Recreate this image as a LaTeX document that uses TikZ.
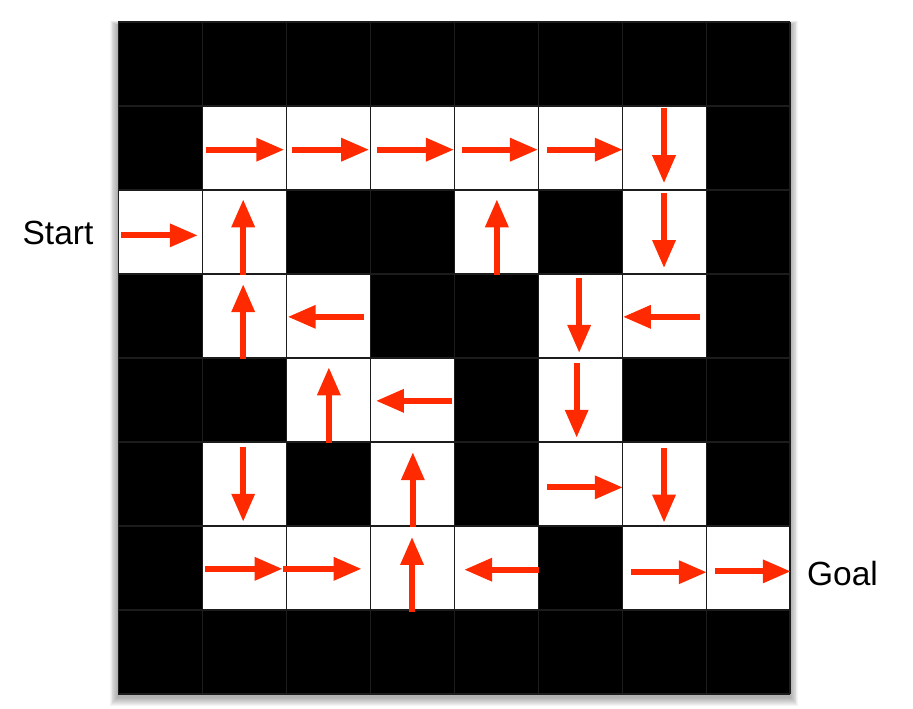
\documentclass[tikz,border=0pt]{standalone}
\usepackage{fontspec}
\setmainfont{Liberation Sans}
\usetikzlibrary{arrows.meta}
\definecolor{policyred}{RGB}{255,42,0}
\definecolor{gridline}{RGB}{28,28,28}

\begin{document}
\begin{tikzpicture}[x=2cm, y=-2cm,
    policy/.style={policyred, line width=4pt, -{Triangle[length=19pt, width=15pt]}},
    label/.style={font=\fontsize{22.7}{27}\selectfont, inner sep=0pt}]

    \useasboundingbox (-1.405,-0.262) rectangle (9.464,8.167);

    % Shadow
    \foreach \s in {1,...,9}
      \fill[black, opacity=0.04] (-\s*0.011, -\s*0.006+0.04) rectangle (8+\s*0.011, 8+\s*0.011+0.04);

    % Board
    \fill[black] (0,0) rectangle (8,8);
    \foreach \c/\r in {1/1,2/1,3/1,4/1,5/1,6/1,
                       0/2,1/2,4/2,6/2,
                       1/3,2/3,5/3,6/3,
                       2/4,3/4,5/4,
                       1/5,3/5,5/5,6/5,
                       1/6,2/6,3/6,4/6,6/6,7/6}
      \fill[white] (\c,\r) rectangle ++(1,1);
    \draw[gridline, line width=0.7pt, step=2cm] (0,0) grid (8,8);

    % Moves
    \draw[policy] (1.05,1.52) -- (1.98,1.52);
    \draw[policy] (2.07,1.52) -- (2.99,1.52);
    \draw[policy] (3.08,1.52) -- (4.00,1.52);
    \draw[policy] (4.10,1.52) -- (5.00,1.52);
    \draw[policy] (5.11,1.52) -- (6.01,1.52);
    \draw[policy] (6.50,1.02) -- (6.50,1.92);

    \draw[policy] (0.04,2.54) -- (0.95,2.54);
    \draw[policy] (1.49,3.01) -- (1.49,2.11);
    \draw[policy] (4.51,3.01) -- (4.51,2.11);
    \draw[policy] (6.50,2.04) -- (6.50,2.93);

    \draw[policy] (1.49,4.01) -- (1.49,3.12);
    \draw[policy] (2.93,3.51) -- (2.02,3.51);
    \draw[policy] (5.49,3.05) -- (5.49,3.94);
    \draw[policy] (6.93,3.51) -- (6.01,3.51);

    \draw[policy] (2.51,5.01) -- (2.51,4.11);
    \draw[policy] (3.98,4.51) -- (3.07,4.51);
    \draw[policy] (5.46,4.06) -- (5.46,4.95);

    \draw[policy] (1.49,5.06) -- (1.49,5.95);
    \draw[policy] (3.51,6.01) -- (3.51,5.12);
    \draw[policy] (5.11,5.54) -- (6.01,5.54);
    \draw[policy] (6.50,5.07) -- (6.50,5.96);

    \draw[policy] (1.04,6.51) -- (1.96,6.51);
    \draw[policy] (1.96,6.51) -- (2.90,6.51);
    \draw[policy] (3.50,7.02) -- (3.50,6.13);
    \draw[policy] (5.01,6.52) -- (4.12,6.52);
    \draw[policy] (6.11,6.55) -- (7.01,6.55);
    \draw[policy] (7.11,6.54) -- (8.01,6.54);

    % Labels
    \node[label, anchor=base east] (start) at (-0.29,2.643) {Start};
    \node[label, anchor=base west] (goal) at (8.20,6.714) {Goal};

\end{tikzpicture}
\end{document}
